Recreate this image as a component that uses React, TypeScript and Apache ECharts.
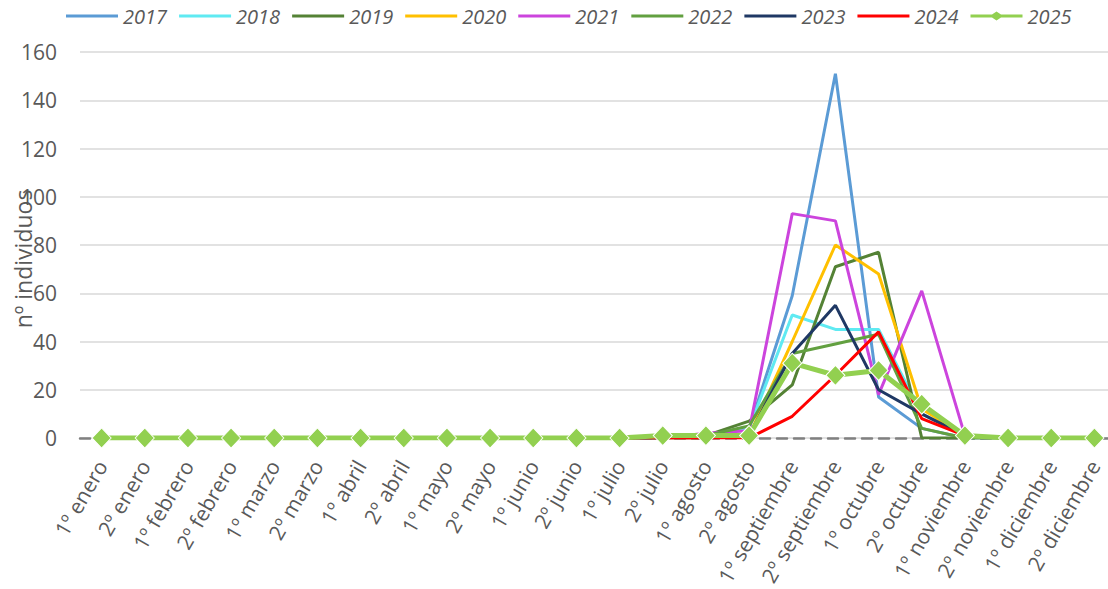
import React, { useEffect, useRef } from "react";
import * as echarts from "echarts";

const categories = [
  "1º enero", "2º enero", "1º febrero", "2º febrero", "1º marzo", "2º marzo",
  "1º abril", "2º abril", "1º mayo", "2º mayo", "1º junio", "2º junio",
  "1º julio", "2º julio", "1º agosto", "2º agosto", "1º septiembre", "2º septiembre",
  "1º octubre", "2º octubre", "1º noviembre", "2º noviembre", "1º diciembre", "2º diciembre",
];

const zeros12 = [0, 0, 0, 0, 0, 0, 0, 0, 0, 0, 0, 0];

const y2017 = [...zeros12, 0, 0, 1, 4, 59, 151, 17, 4, 0, 0, 0, 0];
const y2018 = [...zeros12, 0, 0, 1, 4, 51, 45, 45, 10, 1, 0, 0, 0];
const y2019 = [...zeros12, 0, 0, 1, 7, 22, 71, 77, 0, 0, 0, 0, 0];
const y2020 = [...zeros12, 0, 0, 0, 1, 40, 80, 68, 12, 1, 0, 0, 0];
const y2021 = [...zeros12, 0, 0, 2, 3, 93, 90, 18, 61, 1, 0, 0, 0];
const y2022 = [...zeros12, 0, 0, 1, 5, 35, 39, 43, 4, 0, 0, 0, 0];
const y2023 = [...zeros12, 0, 0, 0, 1, 35, 55, 20, 10, 1, 0, 0, 0];
const y2024 = [...zeros12, 0, 0, 0, 0, 9, 26, 44, 8, 1, 0, 0, 0];
const y2025 = [...zeros12, 0, 1, 1, 1, 31, 26, 28, 14, 1, 0, 0, 0];

const yTicks = [0, 20, 40, 60, 80, 100, 120, 140, 160];

const seriesDefs = [
  { name: "2017", data: y2017, color: "#5B9BD5" },
  { name: "2018", data: y2018, color: "#5FEAF2" },
  { name: "2019", data: y2019, color: "#548235" },
  { name: "2020", data: y2020, color: "#FFC000" },
  { name: "2021", data: y2021, color: "#CC44DD" },
  { name: "2022", data: y2022, color: "#62A040" },
  { name: "2023", data: y2023, color: "#1F3864" },
  { name: "2024", data: y2024, color: "#FF0000" },
];

const FONT = "'Open Sans', 'Noto Sans', sans-serif";
const LINE_ICON = "path://M0,0M0,12M0,4.5H52V7.5H0Z";
const DIAMOND_ICON = "path://M0,0M0,12M0,4.5H21.5L26,1.5L30.5,4.5H52V7.5H30.5L26,10.5L21.5,7.5H0Z";

export default function App() {
  const ref = useRef<HTMLDivElement>(null);
  useEffect(() => {
    if (!ref.current) return;
    const chart = echarts.init(ref.current, undefined, { renderer: "svg" });
    const series: any[] = seriesDefs.map((s) => ({
      name: s.name,
      type: "line",
      data: s.data,
      symbol: "none",
      lineStyle: { color: s.color, width: 3 },
      itemStyle: { color: s.color },
    }));
    series.push({
      name: "2025",
      type: "line",
      data: y2025,
      symbol: "diamond",
      symbolSize: [19, 20],
      lineStyle: { color: "#92D050", width: 5 },
      itemStyle: { color: "#92D050", borderColor: "#FFFFFF", borderWidth: 1 },
    });
    const legendData: any[] = seriesDefs.map((s) => ({
      name: s.name,
      icon: LINE_ICON,
      itemStyle: { color: s.color, borderWidth: 0 },
    }));
    legendData.push({ name: "2025", icon: DIAMOND_ICON, itemStyle: { color: "#92D050", borderWidth: 0 } });
    chart.setOption({
      animation: false,
      backgroundColor: "#FFFFFF",
      textStyle: { fontFamily: FONT },
      legend: {
        left: 61,
        top: 1,
        itemWidth: 52,
        itemHeight: 12,
        itemGap: 12,
        textStyle: { fontFamily: FONT, fontSize: 20, fontStyle: "italic", color: "#595959" },
        data: legendData,
      },
      grid: {
        left: 80,
        top: 52,
        bottom: 151,
        width: 1036,
        containLabel: false,
        outerBoundsMode: "none",
      },
      xAxis: {
        type: "category",
        data: categories,
        boundaryGap: true,
        axisLine: { show: true, lineStyle: { color: "#808080", width: 2.5, type: [10, 7] } },
        axisTick: { show: false },
        axisLabel: {
          rotate: 60,
          margin: 24,
          interval: 0,
          fontFamily: FONT,
          fontSize: 21,
          color: "#595959",
        },
        splitLine: { show: false },
      },
      yAxis: {
        type: "value",
        min: yTicks[0],
        max: yTicks[yTicks.length - 1],
        interval: 20,
        axisLine: { show: false },
        axisTick: { show: false },
        axisLabel: { margin: 23, fontFamily: FONT, fontSize: 21, color: "#595959" },
        splitLine: { show: true, lineStyle: { color: "#D9D9D9", width: 1.5 } },
      },
      graphic: [
        {
          type: "text",
          x: 23,
          y: 259,
          rotation: Math.PI / 2,
          style: {
            text: "nº individuos",
            fontFamily: FONT,
            fontSize: 23,
            fill: "#595959",
            align: "center",
            verticalAlign: "middle",
          },
        },
      ],
      series,
    });
    return () => chart.dispose();
  }, []);
  return (
    <div
      ref={ref}
      style={{ position: "fixed", left: 0, top: 0, width: 1124, height: 589 }}
    />
  );
}
